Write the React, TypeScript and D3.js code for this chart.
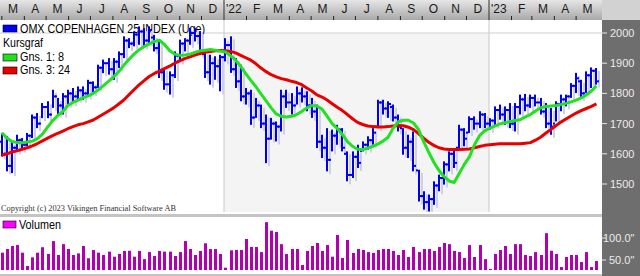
import React from 'react';
import * as d3 from 'd3';

// ---------- DATA ----------
const legendTitle = 'OMX COPENHAGEN 25 INDEX (Uge)';
const legendPrice = 'Kursgraf';
const legendMa1 = 'Gns. 1: 8';
const legendMa2 = 'Gns. 3: 24';
const legendVolume = 'Volumen';
const copyright = 'Copyright (c) 2023 Vikingen Financial Software AB';
const monthLetters = ['J', 'F', 'M', 'A', 'M', 'J', 'J', 'A', 'S', 'O', 'N', 'D'];
const priceTicks = [1500, 1600, 1700, 1800, 1900, 2000];
const volumeTicks = [50, 100];
const volumeTickLabels = ['50.0"', '100.0"'];

const opens = [
  1640, 1600, 1560, 1620, 1645, 1630, 1660, 1720, 1700, 1755, 1730, 1790, 1760, 1790, 1800, 1790, 1810, 1800, 1835, 1820,
  1885, 1900, 1880, 1905, 1930, 1975, 1965, 1995, 2005, 1975, 1985, 1950, 1870, 1830, 1860, 1925, 1965, 1975, 2000, 1990,
  1930, 1870, 1900, 1890, 1920, 1960, 1880, 1840, 1790, 1800, 1720, 1760, 1700, 1650, 1700, 1690, 1790, 1770, 1760, 1800,
  1790, 1760, 1740, 1640, 1620, 1580, 1660, 1680, 1600, 1530, 1590, 1610, 1630, 1645, 1690, 1770, 1750, 1755, 1720, 1685,
  1620, 1640, 1545, 1460, 1440, 1450, 1495, 1520, 1565, 1600, 1620, 1680, 1670, 1715, 1700, 1730, 1700, 1710, 1745, 1730,
  1745, 1700, 1755, 1780, 1760, 1785, 1770, 1740, 1700, 1700, 1765, 1780, 1790, 1825, 1840, 1800, 1860, 1875,
];
const highs = [
  1669, 1658, 1641, 1663, 1652, 1669, 1730, 1735, 1768, 1774, 1812, 1785, 1801, 1812, 1818, 1823, 1823, 1845, 1840, 1895,
  1912, 1917, 1917, 1939, 1989, 1983, 2005, 2022, 2016, 2022, 1994, 1972, 1884, 1873, 1939, 1978, 1983, 2017, 2017, 2006,
  1939, 1928, 1923, 1928, 1983, 1989, 1917, 1895, 1818, 1812, 1785, 1763, 1730, 1719, 1707, 1812, 1812, 1801, 1823, 1820,
  1807, 1785, 1763, 1663, 1685, 1680, 1696, 1685, 1608, 1608, 1630, 1641, 1658, 1685, 1779, 1779, 1774, 1763, 1730, 1685,
  1663, 1674, 1547, 1476, 1465, 1509, 1531, 1575, 1608, 1619, 1696, 1685, 1724, 1724, 1741, 1735, 1718, 1757, 1763, 1757,
  1768, 1768, 1796, 1798, 1796, 1796, 1785, 1768, 1752, 1774, 1796, 1796, 1834, 1868, 1845, 1873, 1886, 1884,
];
const lows = [
  1591, 1542, 1536, 1608, 1614, 1625, 1652, 1685, 1718, 1718, 1752, 1730, 1730, 1763, 1768, 1779, 1779, 1790, 1801, 1818,
  1867, 1862, 1845, 1884, 1917, 1950, 1956, 1961, 1956, 1967, 1939, 1851, 1812, 1796, 1851, 1906, 1939, 1961, 1972, 1928,
  1851, 1829, 1845, 1807, 1906, 1868, 1818, 1774, 1763, 1696, 1719, 1685, 1569, 1647, 1641, 1674, 1752, 1730, 1763, 1770,
  1741, 1719, 1619, 1586, 1542, 1608, 1630, 1608, 1509, 1520, 1553, 1608, 1614, 1630, 1685, 1730, 1719, 1707, 1674, 1597,
  1586, 1542, 1442, 1415, 1409, 1431, 1476, 1498, 1542, 1553, 1619, 1625, 1669, 1680, 1685, 1685, 1680, 1696, 1713, 1696,
  1685, 1674, 1730, 1741, 1752, 1757, 1730, 1685, 1663, 1707, 1741, 1757, 1785, 1801, 1785, 1801, 1818, 1829,
];
const closes = [
  1600, 1560, 1620, 1645, 1630, 1660, 1720, 1700, 1755, 1730, 1790, 1760, 1790, 1800, 1790, 1810, 1800, 1835, 1820, 1885,
  1900, 1880, 1905, 1930, 1975, 1965, 1995, 2005, 1975, 2010, 1950, 1870, 1830, 1860, 1925, 1965, 1975, 2000, 1990, 1940,
  1870, 1900, 1890, 1920, 1960, 1880, 1840, 1790, 1800, 1720, 1760, 1700, 1650, 1700, 1690, 1790, 1770, 1760, 1800, 1790,
  1760, 1740, 1640, 1620, 1580, 1660, 1680, 1620, 1530, 1590, 1570, 1630, 1645, 1670, 1770, 1750, 1765, 1720, 1690, 1620,
  1640, 1560, 1460, 1440, 1450, 1495, 1520, 1565, 1600, 1570, 1680, 1650, 1715, 1700, 1730, 1700, 1710, 1745, 1730, 1745,
  1700, 1755, 1780, 1760, 1785, 1770, 1740, 1700, 1690, 1765, 1780, 1790, 1825, 1850, 1800, 1860, 1875, 1840,
];
const ma8 = [
  1670, 1652, 1641, 1637, 1637, 1639, 1642, 1650, 1665, 1688, 1710, 1727, 1740, 1760, 1770, 1778, 1786, 1792, 1800, 1812,
  1826, 1840, 1855, 1872, 1893, 1912, 1930, 1944, 1955, 1964, 1972, 1976, 1962, 1942, 1930, 1926, 1927, 1930, 1936, 1941,
  1943, 1945, 1943, 1940, 1937, 1925, 1910, 1890, 1865, 1843, 1822, 1798, 1775, 1752, 1732, 1724, 1722, 1724, 1730, 1740,
  1752, 1760, 1758, 1748, 1725, 1700, 1684, 1664, 1640, 1625, 1615, 1614, 1619, 1625, 1632, 1642, 1655, 1685, 1706, 1711,
  1711, 1702, 1680, 1640, 1605, 1572, 1545, 1525, 1510, 1505, 1535, 1565, 1590, 1630, 1660, 1676, 1685, 1692, 1699, 1703,
  1707, 1710, 1713, 1722, 1730, 1742, 1752, 1757, 1758, 1760, 1763, 1767, 1772, 1778, 1785, 1795, 1808, 1825,
];
const ma24 = [
  1595, 1600, 1606, 1610, 1615, 1620, 1626, 1634, 1643, 1652, 1660, 1668, 1675, 1683, 1690, 1696, 1700, 1706, 1712, 1722,
  1732, 1742, 1752, 1765, 1778, 1795, 1812, 1828, 1842, 1856, 1866, 1874, 1882, 1890, 1900, 1908, 1915, 1921, 1927, 1932,
  1936, 1939, 1941, 1942, 1941, 1939, 1934, 1926, 1918, 1910, 1898, 1884, 1872, 1862, 1855, 1849, 1845, 1840, 1836, 1829,
  1818, 1808, 1795, 1788, 1778, 1766, 1754, 1743, 1730, 1716, 1704, 1697, 1692, 1690, 1689, 1689, 1690, 1692, 1694, 1693,
  1688, 1680, 1667, 1652, 1638, 1628, 1620, 1616, 1614, 1614, 1614, 1615, 1616, 1620, 1624, 1628, 1630, 1632, 1633, 1633,
  1633, 1633, 1633, 1635, 1637, 1645, 1655, 1668, 1680, 1693, 1705, 1715, 1725, 1735, 1743, 1750, 1757, 1765,
];
const volumes = [
  66.6, 75, 81.8, 84, 66.6, 36.4, 56, 66.6, 79, 63.6, 93, 61.4, 86, 75, 61.4, 65, 81.8, 54, 72.7, 66.6,
  61.4, 69, 57.5, 63.6, 70.5, 71, 57.5, 70.5, 52, 68, 59, 70.5, 69, 69, 59, 68, 93, 75, 61.4, 70.5,
  88, 75, 75, 63.6, 32.5, 72, 72.7, 72.7, 97.7, 79.5, 79.5, 68, 136, 116.6, 113.6, 86, 63.6, 75, 75, 38.6,
  70.5, 81.8, 88.6, 70.5, 84, 57.5, 106.8, 54.5, 95.5, 66, 75, 72.7, 68, 66, 72.7, 75, 75, 70.5, 61.4, 72.7,
  56.8, 79.5, 68, 75, 75, 70.5, 79.5, 88.6, 86, 70.5, 68, 54.5, 84, 56.8, 84, 52, 29.5, 63.6, 72.7, 81.8,
  63.6, 86, 86, 61.4, 59, 68, 61.4, 111, 71, 63.6, 34, 56.8, 61.4, 61.4, 45.5, 68, 34, 47.7,
];

// weekly bars, Mondays
const weeks = d3.timeMonday.range(new Date(2021, 2, 1), new Date(2023, 5, 1));
const months = d3.timeMonth.range(new Date(2021, 2, 1), new Date(2023, 5, 1));

// ---------- LAYOUT ----------
const W = 640;
const H = 276;
const plotRight = 602;
const axisBottom = 20;
const plotBottom = 212;
const volTop = 217;
const volBottom = 274;
const volBase = 270;

const x = d3.scaleTime().domain([new Date(2022, 0, 1), new Date(2023, 0, 1)]).range([224, 489]);
const y = d3.scaleLinear().domain([1500, 2000]).range([184, 33]);
const yv = d3.scaleLinear().domain([50, 100]).range([260, 238]);

const barColor = '#0000f0';
const shadowColor = '#cfd0e6';
const font = '"Liberation Sans", Arial, sans-serif';

export default function App() {
  const maLine = (vals: number[]) =>
    d3.line<number>().x((_, i) => x(weeks[i])).y((v) => y(v)).curve(d3.curveLinear)(vals) || '';

  const yearStarts = months.filter((m) => m.getMonth() === 0);

  return (
    <svg width={W} height={H} style={{ position: 'absolute', left: 0, top: 0, display: 'block' }} fontFamily={font}>
      <defs>
        <linearGradient id="axisGrad" x1="0" y1="0" x2="0" y2="1">
          <stop offset="0" stopColor="#e6e6e6" />
          <stop offset="1" stopColor="#a9a9a9" />
        </linearGradient>
        <clipPath id="plotClip">
          <rect x={0} y={axisBottom} width={plotRight} height={plotBottom - axisBottom} />
        </clipPath>
      </defs>

      <rect x={0} y={0} width={W} height={H} fill="#ffffff" />

      {/* top axis */}
      <rect x={0} y={0} width={plotRight} height={axisBottom} fill="url(#axisGrad)" />
      <rect x={plotRight} y={0} width={W - plotRight} height={axisBottom} fill="#d2d2d2" />
      {months.map((m, i) => {
        const next = d3.timeMonth.offset(m, 1);
        const cx = (x(m) + x(next)) / 2;
        const isYear = m.getMonth() === 0;
        const label = isYear ? "'" + String(m.getFullYear()).slice(2) : monthLetters[m.getMonth()];
        return (
          <g key={i}>
            <line x1={x(m)} x2={x(m)} y1={isYear ? 0 : 16} y2={axisBottom} stroke={isYear ? '#303030' : '#202020'} strokeWidth={1} />
            <text
              x={isYear ? x(m) + 2 : cx}
              y={13}
              fontSize={12}
              textAnchor={isYear ? 'start' : 'middle'}
              fill="#1a1a1a"
            >
              {label}
            </text>
          </g>
        );
      })}

      {/* plot background */}
      <rect x={0} y={axisBottom} width={plotRight} height={plotBottom - axisBottom} fill="#ffffff" />
      <rect
        x={x(new Date(2022, 0, 1))}
        y={y(2000)}
        width={x(new Date(2023, 0, 1)) - x(new Date(2022, 0, 1))}
        height={plotBottom - y(2000)}
        fill="#f4f4f4"
      />
      <line x1={0} x2={plotRight} y1={y(2000)} y2={y(2000)} stroke="#cfcfcf" strokeWidth={1} />
      {yearStarts.map((m, i) => (
        <line key={i} x1={x(m)} x2={x(m)} y1={axisBottom} y2={plotBottom} stroke="#c8c8c8" strokeWidth={1} />
      ))}

      {/* legend */}
      <rect x={3} y={25} width={14} height={7} fill={barColor} stroke="#000" strokeWidth={0.6} />
      <text x={20} y={33} fontSize={12} textLength={185} lengthAdjust="spacingAndGlyphs" fill="#000">{legendTitle}</text>
      <text x={3} y={47} fontSize={12} textLength={40} lengthAdjust="spacingAndGlyphs" fill="#000">{legendPrice}</text>
      <rect x={3} y={54} width={14} height={7} fill="#20e020" stroke="#000" strokeWidth={0.6} />
      <text x={20} y={61} fontSize={12} textLength={44} lengthAdjust="spacingAndGlyphs" fill="#000">{legendMa1}</text>
      <rect x={3} y={67} width={14} height={7} fill="#e80000" stroke="#000" strokeWidth={0.6} />
      <text x={20} y={74} fontSize={12} textLength={50} lengthAdjust="spacingAndGlyphs" fill="#000">{legendMa2}</text>

      <g clipPath="url(#plotClip)">
        {/* shadows */}
        {weeks.map((d, i) => {
          const cx = Math.round(x(d));
          return (
            <g key={'s' + i} fill={shadowColor}>
              <rect x={cx + 2} y={y(highs[i]) + 3} width={2} height={y(lows[i]) - y(highs[i])} />
            </g>
          );
        })}
        {/* OHLC bars */}
        {weeks.map((d, i) => {
          const cx = Math.round(x(d));
          return (
            <g key={'b' + i} fill={barColor}>
              <rect x={cx - 1} y={y(highs[i])} width={2} height={y(lows[i]) - y(highs[i])} />
              <rect x={cx - 3} y={y(opens[i]) - 1} width={2} height={2} />
              <rect x={cx + 1} y={y(closes[i]) - 1} width={2} height={2} />
            </g>
          );
        })}
        <path d={maLine(ma24)} fill="none" stroke="#e80000" strokeWidth={3} strokeLinejoin="round" />
        <path d={maLine(ma8)} fill="none" stroke="#22e022" strokeWidth={3} strokeLinejoin="round" />
      </g>

      {/* copyright */}
      <text x={1} y={211} fontSize={9} fontFamily='"Liberation Serif", "Times New Roman", serif' fill="#333" textLength={175} lengthAdjust="spacingAndGlyphs">
        {copyright}
      </text>

      {/* separator */}
      <rect x={0} y={214} width={plotRight} height={3} fill="#c4c4c4" />

      {/* volume panel */}
      <rect x={0} y={volTop} width={plotRight} height={volBottom - volTop} fill="#ffffff" />
      <rect x={0} y={volBottom} width={plotRight} height={2} fill="#c4c4c4" />
      <rect x={3} y={221} width={13} height={7} fill="#ff00ff" stroke="#000" strokeWidth={0.6} />
      <text x={19} y={229} fontSize={12} textLength={42} lengthAdjust="spacingAndGlyphs" fill="#000">{legendVolume}</text>
      {weeks.map((d, i) => {
        const cx = Math.round(x(d));
        return <rect key={'v' + i} x={cx - 1} y={yv(volumes[i])} width={3} height={volBase - yv(volumes[i])} fill="#b000b0" />;
      })}

      {/* right axis */}
      <rect x={plotRight} y={axisBottom} width={W - plotRight} height={H - axisBottom} fill="#6e6e6e" />
      {priceTicks.map((t) => (
        <g key={t}>
          <line x1={plotRight} x2={plotRight + 5} y1={y(t)} y2={y(t)} stroke="#e8e8e8" />
          <text x={610} y={y(t) + 4} fontSize={11} fill="#ececec">{t}</text>
        </g>
      ))}
      {volumeTicks.map((t, i) => (
        <g key={t}>
          <line x1={plotRight} x2={plotRight + 4} y1={yv(t)} y2={yv(t)} stroke="#e8e8e8" />
          <text x={i === 1 ? 603 : 609} y={yv(t) + 4} fontSize={11} fill="#ececec">{volumeTickLabels[i]}</text>
        </g>
      ))}
    </svg>
  );
}
